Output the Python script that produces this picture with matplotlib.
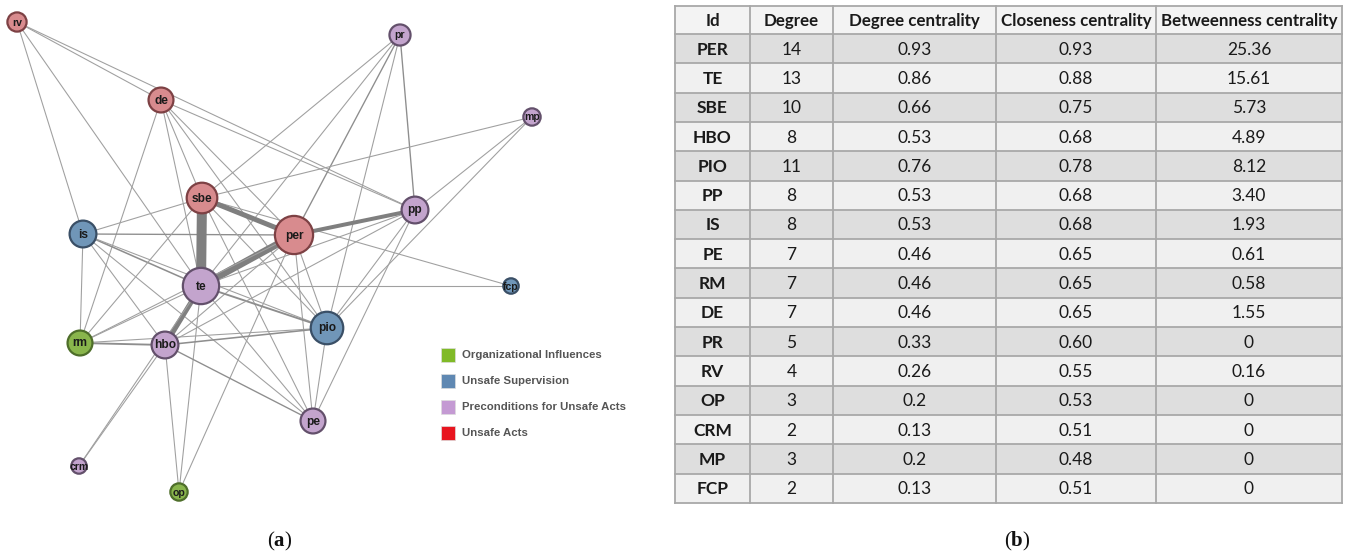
import matplotlib
matplotlib.use("Agg")
import matplotlib.pyplot as plt
from matplotlib.patches import Circle, Rectangle

# ---------------- data ----------------
ids = ['PER', 'TE', 'SBE', 'HBO', 'PIO', 'PP', 'IS', 'PE', 'RM', 'DE',
       'PR', 'RV', 'OP', 'CRM', 'MP', 'FCP']
degree = [14, 13, 10, 8, 11, 8, 8, 7, 7, 7, 5, 4, 3, 2, 3, 2]
degree_centrality = ['0.93', '0.86', '0.66', '0.53', '0.76', '0.53', '0.53', '0.46',
                     '0.46', '0.46', '0.33', '0.26', '0.2', '0.13', '0.2', '0.13']
closeness_centrality = ['0.93', '0.88', '0.75', '0.68', '0.78', '0.68', '0.68', '0.65',
                        '0.65', '0.65', '0.60', '0.55', '0.53', '0.51', '0.48', '0.51']
betweenness_centrality = ['25.36', '15.61', '5.73', '4.89', '8.12', '3.40', '1.93', '0.61',
                          '0.58', '1.55', '0', '0.16', '0', '0', '0', '0']
columns = ['Id', 'Degree', 'Degree centrality', 'Closeness centrality', 'Betweenness centrality']

categories = ['Organizational Influences', 'Unsafe Supervision',
              'Preconditions for Unsafe Acts', 'Unsafe Acts']
node_category = {
    'per': 'Unsafe Acts', 'sbe': 'Unsafe Acts', 'de': 'Unsafe Acts', 'rv': 'Unsafe Acts',
    'is': 'Unsafe Supervision', 'pio': 'Unsafe Supervision', 'fcp': 'Unsafe Supervision',
    'rm': 'Organizational Influences', 'op': 'Organizational Influences',
    'te': 'Preconditions for Unsafe Acts', 'hbo': 'Preconditions for Unsafe Acts',
    'pp': 'Preconditions for Unsafe Acts', 'pr': 'Preconditions for Unsafe Acts',
    'mp': 'Preconditions for Unsafe Acts', 'pe': 'Preconditions for Unsafe Acts',
    'crm': 'Preconditions for Unsafe Acts',
}
# edges (source, target, weight)
edges = [
    ('rv', 'de', 1), ('rv', 'pp', 1), ('rv', 'te', 1), ('rv', 'is', 1),
    ('de', 'rm', 1), ('de', 'sbe', 1), ('de', 'te', 1), ('de', 'per', 1),
    ('de', 'pio', 1), ('de', 'pp', 1),
    ('pr', 'pp', 1.3), ('pr', 'sbe', 1), ('pr', 'per', 1.3), ('pr', 'te', 1), ('pr', 'pio', 1),
    ('mp', 'sbe', 1), ('mp', 'pp', 1), ('mp', 'pio', 1),
    ('fcp', 'te', 1), ('fcp', 'sbe', 1),
    ('is', 'rm', 1), ('is', 'sbe', 1), ('is', 'per', 1.3), ('is', 'te', 1.5),
    ('is', 'hbo', 1), ('is', 'pe', 1), ('is', 'pio', 1),
    ('sbe', 'per', 5), ('sbe', 'te', 10), ('sbe', 'rm', 1), ('sbe', 'pio', 1), ('sbe', 'pe', 1),
    ('per', 'te', 7), ('per', 'pp', 4), ('per', 'pio', 1), ('per', 'pe', 1), ('per', 'rm', 1),
    ('per', 'op', 1), ('per', 'hbo', 1),
    ('te', 'hbo', 5), ('te', 'rm', 1), ('te', 'pio', 1.8), ('te', 'pe', 1), ('te', 'crm', 1),
    ('te', 'op', 1), ('te', 'pp', 1),
    ('rm', 'hbo', 1.8), ('rm', 'pio', 1),
    ('hbo', 'pio', 1.5), ('hbo', 'pe', 1.3), ('hbo', 'crm', 1), ('hbo', 'op', 1), ('hbo', 'pp', 1),
    ('pio', 'pe', 1), ('pio', 'pp', 1), ('pe', 'pp', 1),
]

# ---------------- layout / style ----------------
W, H = 1355, 556
pos = {
    'rv': (17, 22), 'de': (161, 100), 'pr': (400, 35), 'mp': (532, 117),
    'sbe': (202, 198), 'per': (294, 235), 'pp': (415, 210), 'is': (83, 234),
    'te': (201, 286), 'fcp': (511, 286), 'pio': (327, 328), 'rm': (80, 343),
    'hbo': (165, 345), 'pe': (313, 421), 'crm': (79, 466), 'op': (179, 492),
}
node_fill = {'Organizational Influences': '#89b54c', 'Unsafe Supervision': '#7096b8',
             'Preconditions for Unsafe Acts': '#c3a4cd', 'Unsafe Acts': '#d88b8e'}
node_edge = {'Organizational Influences': '#4e6e2a', 'Unsafe Supervision': '#3a4f66',
             'Preconditions for Unsafe Acts': '#63506b', 'Unsafe Acts': '#7d4144'}
legend_col = {'Organizational Influences': '#80ba27', 'Unsafe Supervision': '#5f88b2',
              'Preconditions for Unsafe Acts': '#c49ad3', 'Unsafe Acts': '#e8151f'}

plt.rcParams['mathtext.fontset'] = 'custom'
plt.rcParams['mathtext.rm'] = 'Liberation Serif'
plt.rcParams['mathtext.bf'] = 'Liberation Serif:bold'

fig = plt.figure(figsize=(W / 100, H / 100), dpi=100)
ax = fig.add_axes([0, 0, 1, 1])
ax.set_xlim(0, W)
ax.set_ylim(H, 0)
ax.set_aspect('equal')
ax.axis('off')

deg_lookup = {i.lower(): d for i, d in zip(ids, degree)}

# edges
for s, t, w in edges:
    x1, y1 = pos[s]
    x2, y2 = pos[t]
    if w >= 3:
        col, lw = '#7f7f7f', 0.72 * w
    elif w > 1:
        col, lw = '#8e8e8e', 0.75 * w
    else:
        col, lw = '#a0a0a0', 0.78
    ax.plot([x1, x2], [y1, y2], color=col, lw=lw, solid_capstyle='butt', zorder=1)

# nodes
for n, (x, y) in pos.items():
    cat = node_category[n]
    r = 5.8 + 0.95 * deg_lookup[n]
    ax.add_patch(Circle((x, y), r, facecolor=node_fill[cat], edgecolor=node_edge[cat],
                        lw=1.6, zorder=3))
    fs = 8.6 if r > 11 else 7.6
    ax.text(x, y + 0.5, n, ha='center', va='center', fontsize=fs, fontweight='bold',
            family='Liberation Sans', color='#1a1a1a', zorder=4)

# legend
ly = [355, 381, 407, 433]
for cat, yy in zip(categories, ly):
    ax.add_patch(Rectangle((441, yy - 7), 14, 14, facecolor=legend_col[cat],
                           edgecolor='#dddddd', lw=0.5, zorder=3))
    ax.text(462, yy, cat, ha='left', va='center', fontsize=8.2, fontweight='bold',
            family='Liberation Sans', color='#555555')

# ---------------- table ----------------
col_x = [675, 750, 833, 996, 1156, 1342]
top = 6
head_h = 28
row_h = 29.3
light = '#f0f0f0'
dark = '#dedede'

ax.add_patch(Rectangle((col_x[0], top), col_x[-1] - col_x[0], head_h,
                       facecolor='#f3f3f3', edgecolor='none', zorder=1))
for j, c in enumerate(columns):
    ax.text((col_x[j] + col_x[j + 1]) / 2, top + head_h / 2 + 1, c, ha='center', va='center',
            fontsize=12.2, fontweight='bold', family='Lato', color='#1a1a1a', zorder=3)

rows = list(zip(ids, degree, degree_centrality, closeness_centrality, betweenness_centrality))
for i, row in enumerate(rows):
    y0 = top + head_h + i * row_h
    ax.add_patch(Rectangle((col_x[0], y0), col_x[-1] - col_x[0], row_h,
                           facecolor=dark if i % 2 == 0 else light, edgecolor='none', zorder=1))
    for j, v in enumerate(row):
        ax.text((col_x[j] + col_x[j + 1]) / 2, y0 + row_h / 2 + 1, str(v), ha='center',
                va='center', fontsize=12.5, fontweight='bold' if j == 0 else 'normal',
                family='Lato', color='#1a1a1a', zorder=3)

bottom = top + head_h + len(rows) * row_h
grid_c = '#a8a8a8'
for x in col_x:
    ax.plot([x, x], [top, bottom], color=grid_c, lw=1.3, zorder=2)
ys = [top, top + head_h] + [top + head_h + (i + 1) * row_h for i in range(len(rows))]
for y in ys:
    ax.plot([col_x[0], col_x[-1]], [y, y], color=grid_c, lw=1.3, zorder=2)

# captions
ax.text(280, 541, r'($\mathbf{a}$)', ha='center', va='center', fontsize=15,
        family='Liberation Serif', color='#111111')
ax.text(1017, 541, r'($\mathbf{b}$)', ha='center', va='center', fontsize=15,
        family='Liberation Serif', color='#111111')

fig.savefig('out.png', dpi=100)
